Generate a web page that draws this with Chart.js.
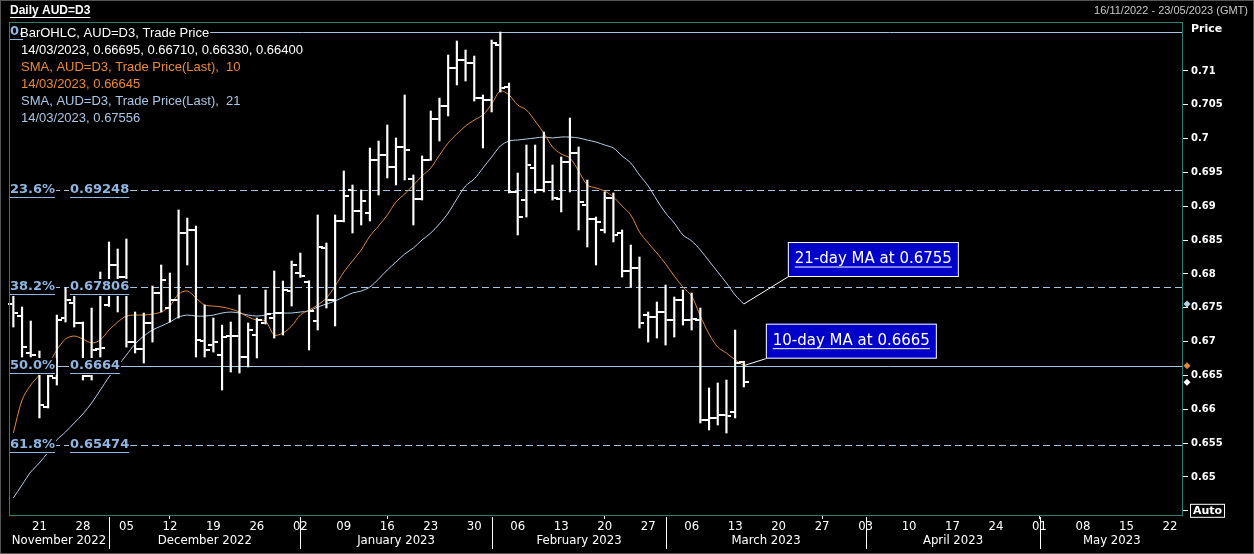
<!DOCTYPE html>
<html><head><meta charset="utf-8">
<script src="https://cdn.jsdelivr.net/npm/chart.js@4.4.1/dist/chart.umd.min.js"></script>
<style>html,body{margin:0;padding:0;background:#000;overflow:hidden}#wrap{width:1254px;height:554px;position:relative}</style>
</head><body><div id="wrap"><canvas id="c" width="1254" height="554"></canvas></div>
<script>
// ---- data ----
const startDate = '2022-11-16';
const endDate = '2023-05-23';
const opens = [0.67556,0.67378,0.66832,0.66655,0.66034,0.66462,0.67349,0.67571,0.67275,0.66492,
0.66891,0.67541,0.68133,0.67955,0.66994,0.66891,0.67275,0.67719,0.67497,0.67615,
0.68606,0.6865,0.67009,0.6695,0.66802,0.67083,0.67083,0.66773,0.67098,0.67275,
0.67349,0.67423,0.67748,0.68014,0.6788,0.67305,0.68384,0.67615,0.68783,0.69241,
0.68931,0.68901,0.69685,0.69758,0.69581,0.69877,0.69404,0.69108,0.69685,0.7029,
0.70483,0.71044,0.71162,0.71118,0.706,0.70571,0.71384,0.70763,0.69212,0.69093,
0.69566,0.69241,0.6936,0.69108,0.69655,0.69788,0.69019,0.68813,0.6865,0.69123,
0.68606,0.68044,0.68088,0.67393,0.67364,0.67438,0.67319,0.67615,0.67319,0.67319,
0.65842,0.65872,0.65916,0.6596,0.66695];
const highs = [0.67689,0.67512,0.67305,0.66861,0.66536,0.67393,0.67792,0.67689,0.6729,0.67497,
0.68029,0.68473,0.68369,0.68517,0.67438,0.67423,0.67822,0.68133,0.68014,0.68946,
0.68827,0.68709,0.67541,0.67349,0.67245,0.6729,0.67689,0.67275,0.67349,0.67763,
0.68044,0.67896,0.68192,0.6831,0.679,0.68872,0.68458,0.68872,0.69522,0.69315,
0.69241,0.69862,0.69965,0.70202,0.7001,0.70645,0.69463,0.69744,0.70409,0.706,
0.71236,0.71443,0.7131,0.71221,0.70645,0.71458,0.71576,0.70822,0.69492,0.69906,
0.69906,0.70098,0.69611,0.69729,0.70305,0.69877,0.69389,0.68842,0.69212,0.69197,
0.6865,0.68428,0.68251,0.67438,0.67586,0.67837,0.6766,0.67763,0.67719,0.67497,
0.66315,0.66389,0.66433,0.67172,0.6671];
const lows = [0.67216,0.66773,0.66773,0.65872,0.66019,0.66359,0.6729,0.67216,0.66433,0.66433,
0.66773,0.6752,0.67438,0.6692,0.66832,0.66684,0.66994,0.67438,0.6729,0.67349,
0.68133,0.66773,0.66773,0.66846,0.66285,0.66551,0.66536,0.66625,0.66758,0.6726,
0.67053,0.67098,0.67526,0.6795,0.66876,0.67172,0.67497,0.67231,0.6877,0.68606,
0.68724,0.68783,0.69167,0.69419,0.69315,0.69389,0.68724,0.69093,0.6968,0.69965,
0.70335,0.70793,0.70852,0.70556,0.69862,0.70394,0.70689,0.69197,0.68576,0.68842,
0.69197,0.69212,0.69093,0.68916,0.69212,0.6865,0.68399,0.68133,0.68606,0.68473,
0.67955,0.67807,0.67201,0.66994,0.67053,0.6695,0.67068,0.67245,0.67172,0.65798,
0.65694,0.65768,0.6565,0.65872,0.6633];
const closes = [0.67423,0.6692,0.66802,0.66064,0.66492,0.67319,0.67615,0.67275,0.66492,0.66876,
0.66905,0.68133,0.67955,0.66994,0.66891,0.67275,0.67719,0.67911,0.67615,0.68606,
0.6865,0.67024,0.66876,0.66994,0.67068,0.67083,0.66773,0.67172,0.67319,0.67408,
0.67423,0.67763,0.68133,0.6797,0.67453,0.68399,0.67615,0.68783,0.69153,0.68931,
0.69079,0.69685,0.69758,0.69581,0.69877,0.69832,0.69108,0.69685,0.7029,0.70483,
0.71044,0.71162,0.71118,0.706,0.70571,0.71414,0.70748,0.69212,0.68842,0.69611,
0.69241,0.6936,0.69123,0.69655,0.69788,0.69064,0.68813,0.68768,0.69123,0.68576,
0.68044,0.68088,0.67275,0.67364,0.67438,0.67319,0.67615,0.67319,0.67334,0.65842,
0.65872,0.65916,0.65901,0.66684,0.664];
const sma10 = [0.6565,0.66138,0.66359,0.66507,0.66655,0.66876,0.67039,0.67083,0.67039,0.6698,
0.67024,0.67172,0.6729,0.67378,0.67393,0.67393,0.67408,0.67438,0.67526,0.67704,
0.67748,0.67645,0.67541,0.67526,0.67512,0.67482,0.67438,0.67364,0.67319,0.67305,
0.67098,0.67128,0.67231,0.67393,0.67467,0.67541,0.67645,0.67822,0.68029,0.68192,
0.68355,0.68561,0.68709,0.68872,0.69064,0.69182,0.69315,0.69448,0.69566,0.69758,
0.69936,0.70069,0.70187,0.70276,0.7035,0.70512,0.70704,0.70645,0.70497,0.70423,
0.70261,0.70083,0.69877,0.69773,0.69714,0.69522,0.69315,0.69271,0.69226,0.69138,
0.69005,0.68872,0.68621,0.68458,0.6831,0.68148,0.6797,0.67807,0.67674,0.67378,
0.67113,0.6692,0.66832,0.66729,0.66645];
const sma21 = [0.6469,0.64882,0.65074,0.65207,0.65369,0.65547,0.65665,0.65798,0.65931,0.66093,
0.66285,0.66478,0.6664,0.66802,0.66965,0.67083,0.67172,0.67231,0.6729,0.67364,
0.67393,0.67378,0.67378,0.67393,0.67423,0.67438,0.67423,0.67393,0.67378,0.67393,
0.67423,0.67423,0.67423,0.67438,0.67453,0.67512,0.67556,0.67601,0.6766,0.67719,
0.67748,0.67807,0.67926,0.68059,0.68177,0.68295,0.68384,0.68502,0.68606,0.68739,
0.68901,0.69108,0.69301,0.69404,0.69566,0.69729,0.69891,0.69965,0.6998,0.69995,
0.7001,0.70024,0.7001,0.70024,0.70024,0.7001,0.6998,0.6995,0.69906,0.69862,
0.69744,0.6964,0.69463,0.69301,0.69093,0.68901,0.68753,0.68576,0.68488,0.68355,
0.68192,0.68029,0.67867,0.67689,0.67556];
const yTicks = [0.645,0.65,0.655,0.66,0.665,0.67,0.675,0.68,0.685,0.69,0.695,0.7,0.705,0.71];
const fibPct = ['0.0%','23.6%','38.2%','50.0%','61.8%'];
const fibVal = [0.71576,0.69248,0.67806,0.6664,0.65474];
const fibText = ['0.71576','0.69248','0.67806','0.6664','0.65474'];
const fibSolid = [true,false,false,true,false];
const monthNames = ['January','February','March','April','May','June','July','August','September','October','November','December'];
const legendLines = ['BarOHLC, AUD=D3, Trade Price','14/03/2023, 0.66695, 0.66710, 0.66330, 0.66400',
 'SMA, AUD=D3, Trade Price(Last),  10','14/03/2023, 0.66645','SMA, AUD=D3, Trade Price(Last),  21','14/03/2023, 0.67556'];
const annot10 = '10-day MA at 0.6665';
const annot21 = '21-day MA at 0.6755';
const headerLeft = 'Daily AUD=D3';
const headerRight = '16/11/2022 - 23/05/2023 (GMT)';

// ---- styles ----
const ORANGE = '#e0883a', ORANGE_T = '#ea8a36', BLUE = '#b4d2ee', BLUE_T = '#a9c7e6', FIB = '#a4c4e4', FIBT = '#8fb6e2', TEAL = '#2d7f74';
const NARROW = "'Liberation Sans Narrow','DejaVu Sans Condensed',sans-serif";

function weekdays(s,e){const out=[];let d=new Date(s+'T00:00:00Z');const end=new Date(e+'T00:00:00Z');
 while(d<=end){const w=d.getUTCDay();if(w!==0&&w!==6)out.push(d.toISOString().slice(0,10));d=new Date(d.getTime()+86400000);}return out;}
const cats = weekdays(startDate,endDate);
const isMon = i => new Date(cats[i]+'T00:00:00Z').getUTCDay()===1;

function tickImg(left){const c=document.createElement('canvas');c.width=10;c.height=2;const g=c.getContext('2d');g.fillStyle='#fff';
 if(left)g.fillRect(0,0,4,2);else g.fillRect(6,0,4,2);return c;}
const openImg = tickImg(true), closeImg = tickImg(false);

function uText(ctx,txt,x,y,color,font,bg,under,uOff,bgShift){ctx.font=font;const w=ctx.measureText(txt).width;
 if(bg){const s=bgShift||0;ctx.fillStyle=bg;ctx.fillRect(x-1+s,y-8,w+2-s,17);}ctx.fillStyle=color;ctx.textBaseline='middle';ctx.textAlign='left';ctx.fillText(txt,x,y);
 if(under)ctx.fillRect(x,y+uOff,w,1);return w;}

const decoPlugin = {
 id:'deco',
 beforeDatasetsDraw(chart){const {ctx,chartArea:a,scales:{y}}=chart;ctx.save();ctx.strokeStyle=FIB;ctx.lineWidth=1;
  fibVal.forEach((v,i)=>{const py=Math.round(y.getPixelForValue(v))+0.5;ctx.setLineDash(fibSolid[i]?[]:[7,4]);
   ctx.beginPath();ctx.moveTo(a.left,py);ctx.lineTo(a.right,py);ctx.stroke();});ctx.restore();},
 afterDatasetsDraw(chart){const {ctx,chartArea:a,scales:{x,y}}=chart;ctx.save();
  // fib labels
  const ff='bold 13px "DejaVu Sans",sans-serif';
  fibVal.forEach((v,i)=>{const py=Math.round(y.getPixelForValue(v));
   uText(ctx,fibPct[i],a.left+1,py,FIBT,ff,'#000',true,7);
   uText(ctx,fibText[i],a.left+61,py,FIBT,ff,'#000',true,7);});
  // legend
  const lf='13px "Liberation Sans",Arial,sans-serif';
  const cols=['#fff','#fff',ORANGE_T,ORANGE_T,BLUE_T,BLUE_T];
  legendLines.forEach((t,i)=>{uText(ctx,t,i===0?a.left+11:a.left+12,a.top+11+i*17,cols[i],lf,'#000',false,0,i===0?4:0);});
  // annotations
  const n=sma10.length-1;const px=x.getPixelForValue(n);
  const boxes=[[sma21[n],annot21,44,-62],[sma10[n],annot10,22,-42]];
  ctx.font='15px "DejaVu Sans",sans-serif';
  boxes.forEach(([v,t,dx,dy])=>{const py=y.getPixelForValue(v);const bx=px+dx,by=py+dy,bw=171,bh=35;
   ctx.strokeStyle='#fff';ctx.lineWidth=1;ctx.beginPath();ctx.moveTo(px,py);ctx.lineTo(bx,by+bh);ctx.stroke();
   ctx.fillStyle='#0000c8';ctx.fillRect(bx,by,bw,bh);ctx.strokeRect(bx+0.5,by+0.5,bw-1,bh-1);
   ctx.fillStyle='#fff';ctx.textAlign='center';ctx.textBaseline='middle';ctx.fillText(t,bx+bw/2,by+bh/2);
   const w=ctx.measureText(t).width;ctx.fillRect(bx+bw/2-w/2,by+bh/2+7,w,1);});
  ctx.restore();},
 afterDraw(chart){const {ctx,chartArea:a,scales:{x,y}}=chart;ctx.save();
  // frame
  ctx.strokeStyle=TEAL;ctx.lineWidth=1;ctx.strokeRect(a.left+0.5,a.top+0.5,a.right-a.left-1,a.bottom-a.top);
  ctx.strokeStyle='#555';ctx.strokeRect(0.5,0.5,chart.width-1,chart.height-1);
  // header
  uText(ctx,headerLeft,10,11,'#fff','bold 12px "Liberation Sans",Arial,sans-serif',null,true,6);
  ctx.font='11px "Liberation Sans",Arial,sans-serif';ctx.fillStyle='#c8c8c8';ctx.textAlign='right';ctx.textBaseline='middle';ctx.fillText(headerRight,1248,11);
  // Price label & Auto box
  ctx.font='bold 11px "DejaVu Sans",sans-serif';ctx.fillStyle='#fff';ctx.textAlign='left';ctx.fillText('Price',a.right+8,29);
  const ay=y.getPixelForValue(yTicks[0]);ctx.strokeStyle='#fff';ctx.strokeRect(a.right+7.5,ay-6.5,34,13);ctx.fillText('Auto',a.right+10,ay);
  // last-value diamonds
  const n=closes.length-1;
  [[sma21[n],BLUE],[sma10[n],ORANGE],[closes[n],'#fff']].forEach(([v,c])=>{const py=y.getPixelForValue(v),cx=a.right+4;
   ctx.fillStyle=c;ctx.beginPath();ctx.moveTo(cx,py-3.5);ctx.lineTo(cx+3.5,py);ctx.lineTo(cx,py+3.5);ctx.lineTo(cx-3.5,py);ctx.closePath();ctx.fill();});
  // month separators & names
  const bounds=[];cats.forEach((d,i)=>{if(i===0||d.slice(5,7)!==cats[i-1].slice(5,7))bounds.push(i);});
  ctx.strokeStyle='#fff';ctx.lineWidth=1;ctx.font='13px '+NARROW;ctx.fillStyle='#fff';ctx.textAlign='center';ctx.textBaseline='middle';
  bounds.forEach((bi,k)=>{const sx=bi===0?a.left:Math.round(x.getPixelForValue(bi))+0.5;
   if(bi!==0){ctx.beginPath();ctx.moveTo(sx,a.bottom+2);ctx.lineTo(sx,a.bottom+34);ctx.stroke();}
   const ex=k+1<bounds.length?x.getPixelForValue(bounds[k+1]):a.right;
   const d=new Date(cats[bi]+'T00:00:00Z');ctx.fillText(monthNames[d.getUTCMonth()]+' '+d.getUTCFullYear(),(sx+ex)/2,a.bottom+26);});
  ctx.restore();}
};

Chart.defaults.color='#fff';
new Chart(document.getElementById('c').getContext('2d'),{
 data:{labels:cats,datasets:[
  {type:'line',data:sma21,borderColor:BLUE,borderWidth:1,pointRadius:0,tension:0.3,order:4},
  {type:'line',data:sma10,borderColor:ORANGE,borderWidth:1,pointRadius:0,tension:0.3,order:3},
  {type:'bar',data:lows.map((l,i)=>[l,highs[i]]),backgroundColor:'#fff',barThickness:1.5,order:2},
  {type:'line',data:opens,showLine:false,pointStyle:openImg,pointRadius:3,order:1},
  {type:'line',data:closes,showLine:false,pointStyle:closeImg,pointRadius:3,order:1}
 ]},
 options:{responsive:false,animation:false,events:[],
  layout:{padding:{left:9,top:22,right:0,bottom:0}},
  plugins:{legend:{display:false},tooltip:{enabled:false}},
  scales:{
   x:{type:'category',offset:true,
    grid:{offset:false,drawOnChartArea:false,drawTicks:true,tickLength:4,color:c=>isMon(c.index)?'#fff':'rgba(0,0,0,0)'},
    border:{display:false},
    ticks:{autoSkip:false,maxRotation:0,minRotation:0,padding:0,color:'#fff',font:{family:NARROW,size:13},
     callback:(v,i)=>isMon(i)?cats[i].slice(8,10):null},
    afterFit:s=>{s.height=39;}},
   y:{position:'right',min:0.64438,max:0.71724,
    afterBuildTicks:s=>{s.ticks=yTicks.map(v=>({value:v}));},
    grid:{drawOnChartArea:false,drawTicks:true,tickLength:5,color:'#fff'},
    border:{display:false},
    ticks:{padding:3,color:'#fff',font:{family:'"DejaVu Sans",sans-serif',size:10,weight:'bold'},
     callback:v=>v===yTicks[0]?'':String(+v.toFixed(3))},
    afterFit:s=>{s.width=71;}}
  }},
 plugins:[decoPlugin]
});
</script></body></html>
